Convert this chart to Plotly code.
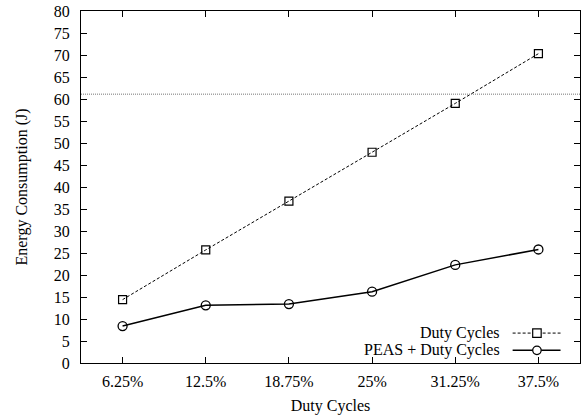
import plotly.graph_objects as go

categories = ["6.25%", "12.5%", "18.75%", "25%", "31.25%", "37.5%"]
duty_cycles = [14.4, 25.7, 36.8, 47.9, 59.0, 70.3]
peas_duty = [8.4, 13.1, 13.4, 16.2, 22.3, 25.8]
threshold = 61.1
y_ticks = list(range(0, 81, 5))

FONT = "Liberation Serif, Times New Roman, serif"

fig = go.Figure()
fig.add_trace(go.Scatter(
    x=categories, y=duty_cycles, mode="lines+markers", name="Duty Cycles",
    line=dict(color="black", width=1, dash="3px,2px"),
    marker=dict(symbol="square-open", size=8, color="black", line=dict(width=1.2)),
    showlegend=False, cliponaxis=False))
fig.add_trace(go.Scatter(
    x=categories, y=peas_duty, mode="lines+markers", name="PEAS + Duty Cycles",
    line=dict(color="black", width=1.5),
    marker=dict(symbol="circle-open", size=9, color="black", line=dict(width=1.3)),
    showlegend=False, cliponaxis=False))

# threshold line
fig.add_shape(type="line", xref="paper", yref="y", x0=0, x1=1, y0=threshold, y1=threshold,
              line=dict(color="#777", width=1, dash="1px,1px"))

# custom legend (text right, sample on right like gnuplot)
legend_rows = [("Duty Cycles", "3px,2px", "square", 1), ("PEAS + Duty Cycles", "solid", "circle", 1.5)]
row_y = [0.085, 0.036]
for (label, dash, sym, w), yy in zip(legend_rows, row_y):
    fig.add_annotation(xref="paper", yref="paper", x=0.843, y=yy, text=label, showarrow=False,
                       xanchor="right", yanchor="middle", font=dict(family=FONT, size=16, color="black"))
    fig.add_shape(type="line", xref="paper", yref="paper", x0=0.865, x1=0.961, y0=yy, y1=yy,
                  line=dict(color="black", width=w, dash=dash))
    cx, cy = 0.9137, yy
    dx, dy = 0.0085, 0.012
    if sym == "square":
        fig.add_shape(type="rect", xref="paper", yref="paper", x0=cx - dx, x1=cx + dx,
                      y0=cy - dy, y1=cy + dy, line=dict(color="black", width=1.2), fillcolor="white")
    else:
        fig.add_shape(type="circle", xref="paper", yref="paper", x0=cx - dx, x1=cx + dx,
                      y0=cy - dy, y1=cy + dy, line=dict(color="black", width=1.3), fillcolor="white")

fig.update_layout(
    width=581, height=418,
    margin=dict(l=81, r=1, t=10.5, b=55.3, autoexpand=False),
    paper_bgcolor="white", plot_bgcolor="white",
    font=dict(family=FONT, size=16, color="black"),
    showlegend=False,
)
fig.update_xaxes(
    type="category", range=[-0.5, 5.5], title=dict(text="Duty Cycles", font=dict(size=16), standoff=10),
    showline=True, linecolor="black", linewidth=1, mirror="allticks",
    ticks="inside", ticklen=6, tickcolor="black", showgrid=False, zeroline=False,
    ticklabelstandoff=4,
)
fig.update_yaxes(
    range=[0, 80], tickvals=y_ticks, title=dict(text="Energy Consumption (J)", font=dict(size=16), standoff=22),
    showline=True, linecolor="black", linewidth=1, mirror="allticks",
    ticks="inside", ticklen=6, tickcolor="black", showgrid=False, zeroline=False,
    ticklabelstandoff=7,
)

fig.write_html("out.html", config={"displayModeBar": False},
               post_script="document.body.style.margin='0';document.body.style.overflow='hidden';")
